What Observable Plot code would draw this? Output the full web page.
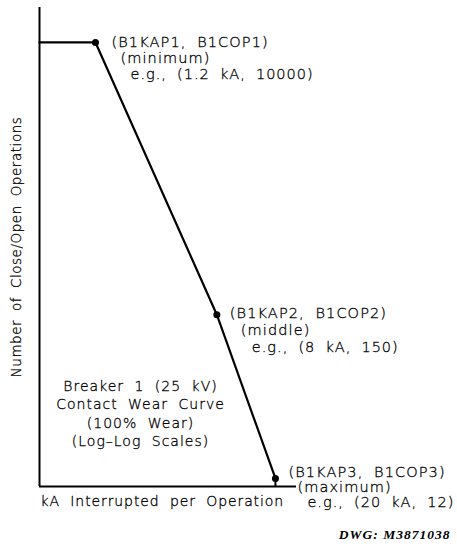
<!DOCTYPE html>
<html>
<head>
<meta charset="utf-8">
<script src="https://cdn.jsdelivr.net/npm/d3@7"></script>
<script src="https://cdn.jsdelivr.net/npm/@observablehq/plot@0.6"></script>
<style>
  html, body { margin: 0; padding: 0; background: #fff; }
  svg { display: block; overflow: visible; }
</style>
</head>
<body>
<div id="chart"></div>
<script>
// Data
const kA = [1.2, 8, 20];
const ops = [10000, 150, 12];
const pointNames = ["(B1KAP1, B1COP1)", "(B1KAP2, B1COP2)", "(B1KAP3, B1COP3)"];
const pointRoles = ["(minimum)", "(middle)", "(maximum)"];
const pointExamples = ["e.g., (1.2 kA, 10000)", "e.g., (8 kA, 150)", "e.g., (20 kA, 12)"];
const xDomain = [0.5, 27.8];
const yDomain = [10.6, 17150];
const boxLines = ["Breaker 1 (25 kV)", "Contact Wear Curve", "(100% Wear)", "(Log\u2013Log Scales)"];
const xLabel = "kA Interrupted per Operation";
const yLabel = "Number of Close/Open Operations";
const dwg = "DWG: M3871038";

const pts = kA.map((k, i) => ({x: k, y: ops[i], name: pointNames[i], role: pointRoles[i], ex: pointExamples[i]}));
const curve = [{x: xDomain[0], y: ops[0]}, ...pts];

const font = "DejaVu Sans, sans-serif";
const base = {fill: "#000", stroke: "#000", strokeWidth: 0.3, fontFamily: font, fontWeight: 300, textAnchor: "start"};

// per-point label offsets (styling)
const off = [
  {dx: 16, dy: [0, 16, 32], ind: [0, 9, 19]},
  {dx: 13, dy: [-1, 16, 33], ind: [0, 11, 22]},
  {dx: 13, dy: [-6, 9, 24], ind: [0, 9, 19]}
];

const marks = [
  Plot.ruleX([xDomain[0]], {stroke: "#000", strokeWidth: 2}),
  Plot.ruleY([yDomain[0]], {stroke: "#000", strokeWidth: 2}),
  Plot.line(curve, {x: "x", y: "y", stroke: "#000", strokeWidth: 2.2}),
  Plot.ruleX([pts[2]], {x: "x", y1: yDomain[0], y2: "y", stroke: "#000", strokeWidth: 2}),
  Plot.dot(pts, {x: "x", y: "y", r: 3.5, fill: "#000"}),
];
pts.forEach((p, i) => {
  const o = off[i];
  ["name", "role", "ex"].forEach((k, j) => {
    marks.push(Plot.text([p], {x: "x", y: "y", text: k, dx: o.dx + o.ind[j], dy: o.dy[j], ...base, fontSize: 14.5}));
  });
});
boxLines.forEach((t, j) => {
  marks.push(Plot.text([t], {frameAnchor: "bottom-left", dx: 101, dy: -96 + j * 18.5, ...base, fontSize: 14, textAnchor: "middle"}));
});
marks.push(Plot.text([xLabel], {frameAnchor: "bottom-left", dx: 1, dy: 19, ...base, fontSize: 14}));
marks.push(Plot.text([yLabel], {frameAnchor: "left", dx: -23, rotate: -90, ...base, fontSize: 13.5, textAnchor: "middle"}));
marks.push(Plot.text([dwg], {frameAnchor: "bottom-right", dx: 154, dy: 52, fontSize: 13.5, fontWeight: "bold", fontStyle: "italic", fontFamily: "Liberation Serif, serif", fill: "#000", textAnchor: "end"}));

const chart = Plot.plot({
  width: 457,
  height: 560,
  marginLeft: 39,
  marginTop: 7,
  marginBottom: 74,
  marginRight: 161,
  x: {type: "log", domain: xDomain, axis: null},
  y: {type: "log", domain: yDomain, axis: null},
  style: {background: "#fff", overflow: "visible"},
  marks
});
// letter / word spacing per text group (styling)
const spacingFor = (s) => {
  if (pointExamples.includes(s)) return ["1.0", "4.5"];
  if (pointNames.includes(s) || pointRoles.includes(s)) return ["1.1", "5"];
  if (boxLines.includes(s)) return ["1", "5"];
  if (s === dwg) return ["1", "0"];
  if (s === xLabel) return ["0.9", "5"];
  if (s === yLabel) return ["0.55", "4"];
  return null;
};
chart.querySelectorAll("text").forEach(t => {
  const v = spacingFor(t.textContent);
  if (v) { t.style.letterSpacing = v[0] + "px"; t.style.wordSpacing = v[1] + "px"; }
});
document.getElementById("chart").appendChild(chart);
</script>
</body>
</html>
